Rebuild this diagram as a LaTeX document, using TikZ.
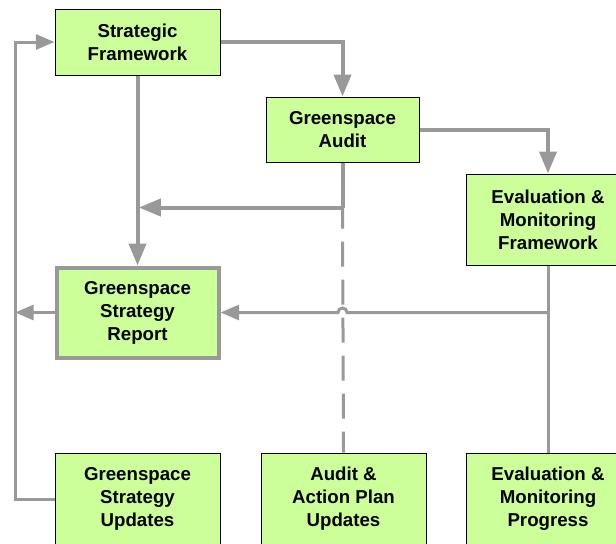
\documentclass[tikz,border=0pt]{standalone}
\usepackage{fontspec}
\setmainfont{Liberation Sans}
\usetikzlibrary{arrows.meta}
\definecolor{boxgreen}{HTML}{CCFF99}
\definecolor{linkgray}{HTML}{999999}
\begin{document}
\begin{tikzpicture}[x=0.75pt,y=-0.75pt,
  box/.style={draw=black, line width=0.75pt, fill=boxgreen, align=center,
    font=\bfseries\fontsize{14}{17.25}\selectfont, inner sep=0pt},
  keybox/.style={box, draw=linkgray, line width=3pt},
  link/.style={draw=linkgray, line width=3pt},
  thinlink/.style={draw=linkgray, line width=2.25pt},
  bigtip/.style={-{Triangle[width=12.75pt,length=16.5pt]}},
  smalltip/.style={-{Triangle[width=11.25pt,length=14pt]}},
]
\useasboundingbox (0,0) rectangle (616,543);

% boxes
\node[box, minimum width=123.75pt, minimum height=49.5pt] (sf) at (137.5,42) {Strategic\\Framework};
\node[box, minimum width=114.75pt, minimum height=48.75pt] (audit) at (342.5,129.5) {Greenspace\\Audit};
\node[box, minimum width=123pt, minimum height=68.25pt] (evf) at (548,219.5) {Evaluation \&\\Monitoring\\Framework};
\node[keybox, minimum width=121.5pt, minimum height=67.5pt] (report) at (137.5,312.5) {Greenspace\\Strategy\\Report};
\node[box, minimum width=123.75pt, minimum height=69pt] (upd) at (137.5,499) {Greenspace\\Strategy\\Updates};
\node[box, minimum width=123.75pt, minimum height=69pt] (aup) at (343.5,499) {Audit \&\\Action Plan\\Updates};
\node[box, minimum width=123pt, minimum height=69pt] (evp) at (548,499) {Evaluation \&\\Monitoring\\Progress};

% helper points
\path (audit.south) ++(0,45) coordinate (aj);
\coordinate (lp) at (15,0);
\coordinate (ej) at (evf.south |- report.east);
\path (aj |- ej) ++(4.5,0) coordinate (hopR);

% strategic framework outputs
\draw[link,bigtip] (sf.east) -| (audit.north);
\draw[link,bigtip] (sf.south) -- (report.north);

% audit feeds back into the framework-to-report line
\draw[link] (audit.south) -- (aj);
\draw[link,bigtip,shorten >=1pt] (aj) -- (aj -| sf.south);
\draw[thinlink, dash pattern=on 18.75pt off 9.75pt, dash phase=3pt] (aj) -- (aup.north);

% evaluation branch
\draw[link,bigtip] (audit.east) -| (evf.north);
\draw[thinlink] (evf.south) -- (evp.north);
\draw[thinlink,smalltip] (ej) -- (hopR)
  arc[start angle=0, end angle=-180, radius=4.5] -- (report.east);

% feedback loop
\draw[thinlink,smalltip] (report.west) -- (report.west -| lp);
\draw[thinlink,smalltip] (upd.west) -- (upd.west -| lp) |- (sf.west);
\end{tikzpicture}
\end{document}
